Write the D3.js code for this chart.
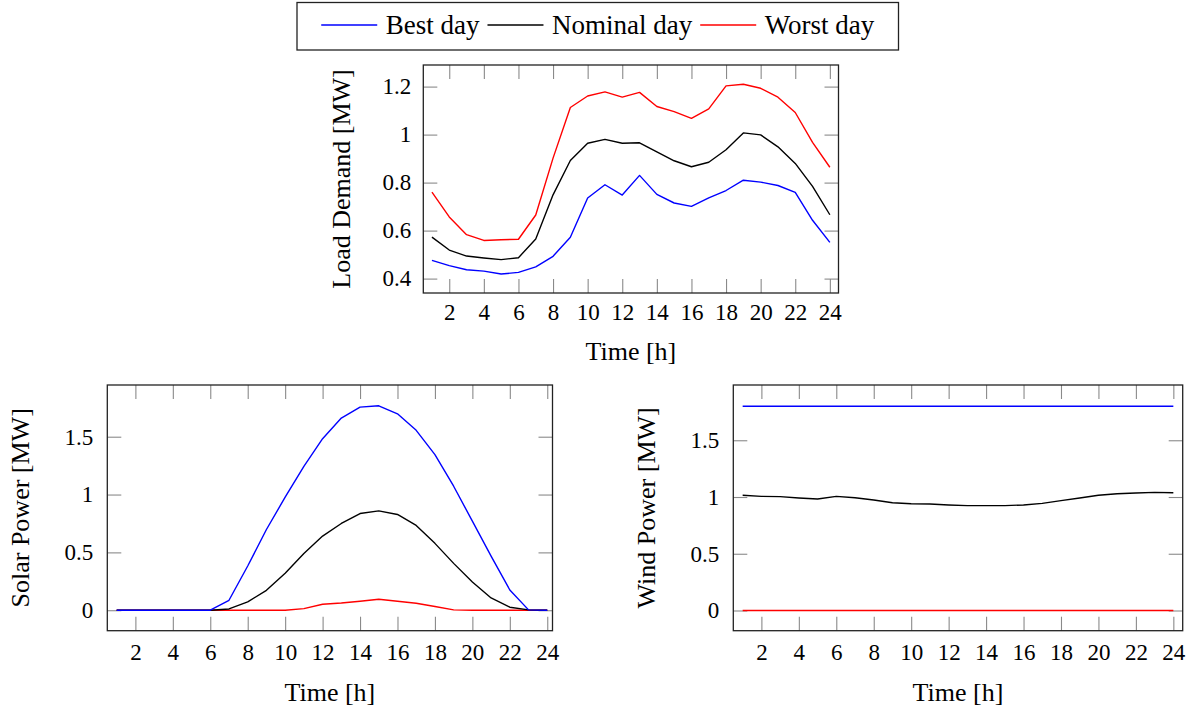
<!DOCTYPE html>
<html>
<head>
<meta charset="utf-8">
<script src="https://cdn.jsdelivr.net/npm/d3@7"></script>
<style>
  html, body { margin: 0; padding: 0; background: #fff; }
  svg { display: block; }
  text { font-family: "Liberation Serif", serif; fill: #000; }
</style>
</head>
<body>
<svg id="chart" width="1199" height="717"></svg>
<script>
// ---------------- data ----------------
const hours = [1,2,3,4,5,6,7,8,9,10,11,12,13,14,15,16,17,18,19,20,21,22,23,24];
const seriesNames = ["Best day", "Nominal day", "Worst day"];
const seriesColors = ["#0000ff", "#000000", "#ff0000"];

const loadBest    = [0.476,0.454,0.437,0.431,0.419,0.426,0.449,0.493,0.572,0.736,0.791,0.748,0.830,0.751,0.715,0.701,0.736,0.767,0.810,0.802,0.788,0.759,0.643,0.551];
const loadNominal = [0.573,0.519,0.494,0.486,0.479,0.487,0.565,0.749,0.892,0.964,0.980,0.964,0.966,0.928,0.891,0.866,0.885,0.937,1.007,0.999,0.949,0.880,0.784,0.666];
const loadWorst   = [0.760,0.657,0.583,0.559,0.562,0.564,0.665,0.902,1.113,1.161,1.178,1.156,1.176,1.117,1.096,1.068,1.107,1.203,1.210,1.193,1.156,1.092,0.968,0.864];

const solarBest    = [0,0,0,0,0,0,0.086,0.382,0.698,0.977,1.244,1.483,1.661,1.756,1.767,1.698,1.555,1.345,1.072,0.770,0.468,0.175,0.003,0];
const solarNominal = [0,0,0,0,0,0,0.011,0.072,0.172,0.319,0.491,0.641,0.750,0.836,0.859,0.828,0.733,0.578,0.405,0.244,0.106,0.026,0.003,0];
const solarWorst   = [0,0,0,0,0,0,0,0,0,0,0.014,0.052,0.063,0.078,0.095,0.078,0.060,0.032,0.003,0,0,0,0,0];

const windBest    = [1.8,1.8,1.8,1.8,1.8,1.8,1.8,1.8,1.8,1.8,1.8,1.8,1.8,1.8,1.8,1.8,1.8,1.8,1.8,1.8,1.8,1.8,1.8,1.8];
const windNominal = [1.015,1.006,1.003,0.991,0.982,1.006,0.994,0.974,0.950,0.941,0.938,0.930,0.924,0.924,0.924,0.930,0.944,0.968,0.991,1.015,1.029,1.035,1.041,1.038];
const windWorst   = [0,0,0,0,0,0,0,0,0,0,0,0,0,0,0,0,0,0,0,0,0,0,0,0];

const xTickValues = [2,4,6,8,10,12,14,16,18,20,22,24];
const loadYTicks  = [0.4,0.6,0.8,1,1.2];
const powerYTicks = [0,0.5,1,1.5];

const xLabel = "Time [h]";
const loadYLabel = "Load Demand [MW]";
const solarYLabel = "Solar Power [MW]";
const windYLabel = "Wind Power [MW]";

// ---------------- drawing ----------------
const svg = d3.select("#chart");
const TICK = 14;
const TICK_FONT = 23;
const LABEL_FONT = 26;

function panel(cfg) {
  const g = svg.append("g");
  const x = d3.scaleLinear().domain(cfg.xDomain).range([cfg.left, cfg.right]);
  const y = d3.scaleLinear().domain(cfg.yDomain).range([cfg.bottom, cfg.top]);

  const fmt = d => String(d);
  const axB = g.append("g").attr("transform", `translate(0,${cfg.bottom})`)
    .call(d3.axisBottom(x).tickValues(xTickValues).tickSize(-TICK).tickPadding(cfg.xPad).tickFormat(fmt));
  const axT = g.append("g").attr("transform", `translate(0,${cfg.top})`)
    .call(d3.axisTop(x).tickValues(xTickValues).tickSize(-TICK).tickFormat(""));
  const axL = g.append("g").attr("transform", `translate(${cfg.left},0)`)
    .call(d3.axisLeft(y).tickValues(cfg.yTicks).tickSize(-TICK).tickPadding(cfg.yPad).tickFormat(fmt));
  const axR = g.append("g").attr("transform", `translate(${cfg.right},0)`)
    .call(d3.axisRight(y).tickValues(cfg.yTicks).tickSize(-TICK).tickFormat(""));
  [axB, axT, axL, axR].forEach(a => {
    a.select(".domain").remove();
    a.selectAll(".tick line").attr("stroke", "#8a8a8a").attr("stroke-width", 1.1);
    a.selectAll(".tick text").style("font-family", '"Liberation Serif", serif')
      .style("font-size", TICK_FONT + "px").attr("fill", "#000");
  });

  const line = d3.line().x((d, i) => x(hours[i])).y(d => y(d));
  [2, 1, 0].forEach(k => {
    g.append("path").datum(cfg.series[k])
      .attr("fill", "none")
      .attr("stroke", seriesColors[k])
      .attr("stroke-width", 1.4)
      .attr("stroke-linejoin", "round")
      .attr("d", line);
  });

  g.append("rect")
    .attr("x", cfg.left).attr("y", cfg.top)
    .attr("width", cfg.right - cfg.left).attr("height", cfg.bottom - cfg.top)
    .attr("fill", "none").attr("stroke", "#222").attr("stroke-width", 1.3);

  g.append("text")
    .attr("x", (cfg.left + cfg.right) / 2).attr("y", cfg.xLabelY)
    .attr("text-anchor", "middle").style("font-size", LABEL_FONT + "px")
    .text(xLabel);
  const cy = (cfg.top + cfg.bottom) / 2;
  g.append("text")
    .attr("transform", `translate(${cfg.yLabelX},${cy}) rotate(-90)`)
    .attr("text-anchor", "middle").style("font-size", LABEL_FONT + "px")
    .text(cfg.yLabel);
}

panel({
  left: 423.3, right: 838.5, top: 65, bottom: 293,
  xDomain: [0.5, 24.5], yDomain: [0.34, 1.29], yTicks: loadYTicks,
  series: [loadBest, loadNominal, loadWorst],
  xPad: 11, yPad: 12, xLabelY: 360, yLabelX: 350, yLabel: loadYLabel
});
panel({
  left: 107.3, right: 552.5, top: 385, bottom: 630.7,
  xDomain: [0.5, 24.28], yDomain: [-0.177, 1.947], yTicks: powerYTicks,
  series: [solarBest, solarNominal, solarWorst],
  xPad: 13, yPad: 14, xLabelY: 701, yLabelX: 29, yLabel: solarYLabel
});
panel({
  left: 733.3, right: 1182.7, top: 385, bottom: 630.7,
  xDomain: [0.5, 24.5], yDomain: [-0.178, 1.987], yTicks: powerYTicks,
  series: [windBest, windNominal, windWorst],
  xPad: 13, yPad: 14, xLabelY: 701, yLabelX: 655, yLabel: windYLabel
});

// ---------------- legend ----------------
const leg = svg.append("g");
const LINE_LEN = 56, GAP1 = 8.5, GAP2 = 8;
const legLeft = 297, legRight = 898.5, legTop = 2.5, legBottom = 50, legMidY = 25;
leg.append("rect")
  .attr("x", legLeft).attr("y", legTop).attr("width", legRight - legLeft).attr("height", legBottom - legTop)
  .attr("fill", "#fff").attr("stroke", "#222").attr("stroke-width", 1.3);
// measure texts, then spread the entries evenly across the box
const texts = seriesNames.map(name =>
  leg.append("text").style("font-size", "27px").attr("y", legMidY + 9).text(name));
const widths = texts.map(t => t.node().getComputedTextLength());
const used = widths.reduce((a, b) => a + b, 0) + seriesNames.length * (LINE_LEN + GAP1) + (seriesNames.length - 1) * GAP2;
const padX = ((legRight - legLeft) - used) / 2;
let cx = legLeft + padX;
seriesNames.forEach((name, k) => {
  leg.append("line")
    .attr("x1", cx).attr("x2", cx + LINE_LEN)
    .attr("y1", legMidY).attr("y2", legMidY)
    .attr("stroke", seriesColors[k]).attr("stroke-width", 1.4);
  texts[k].attr("x", cx + LINE_LEN + GAP1);
  cx += LINE_LEN + GAP1 + widths[k] + GAP2;
});
</script>
</body>
</html>
